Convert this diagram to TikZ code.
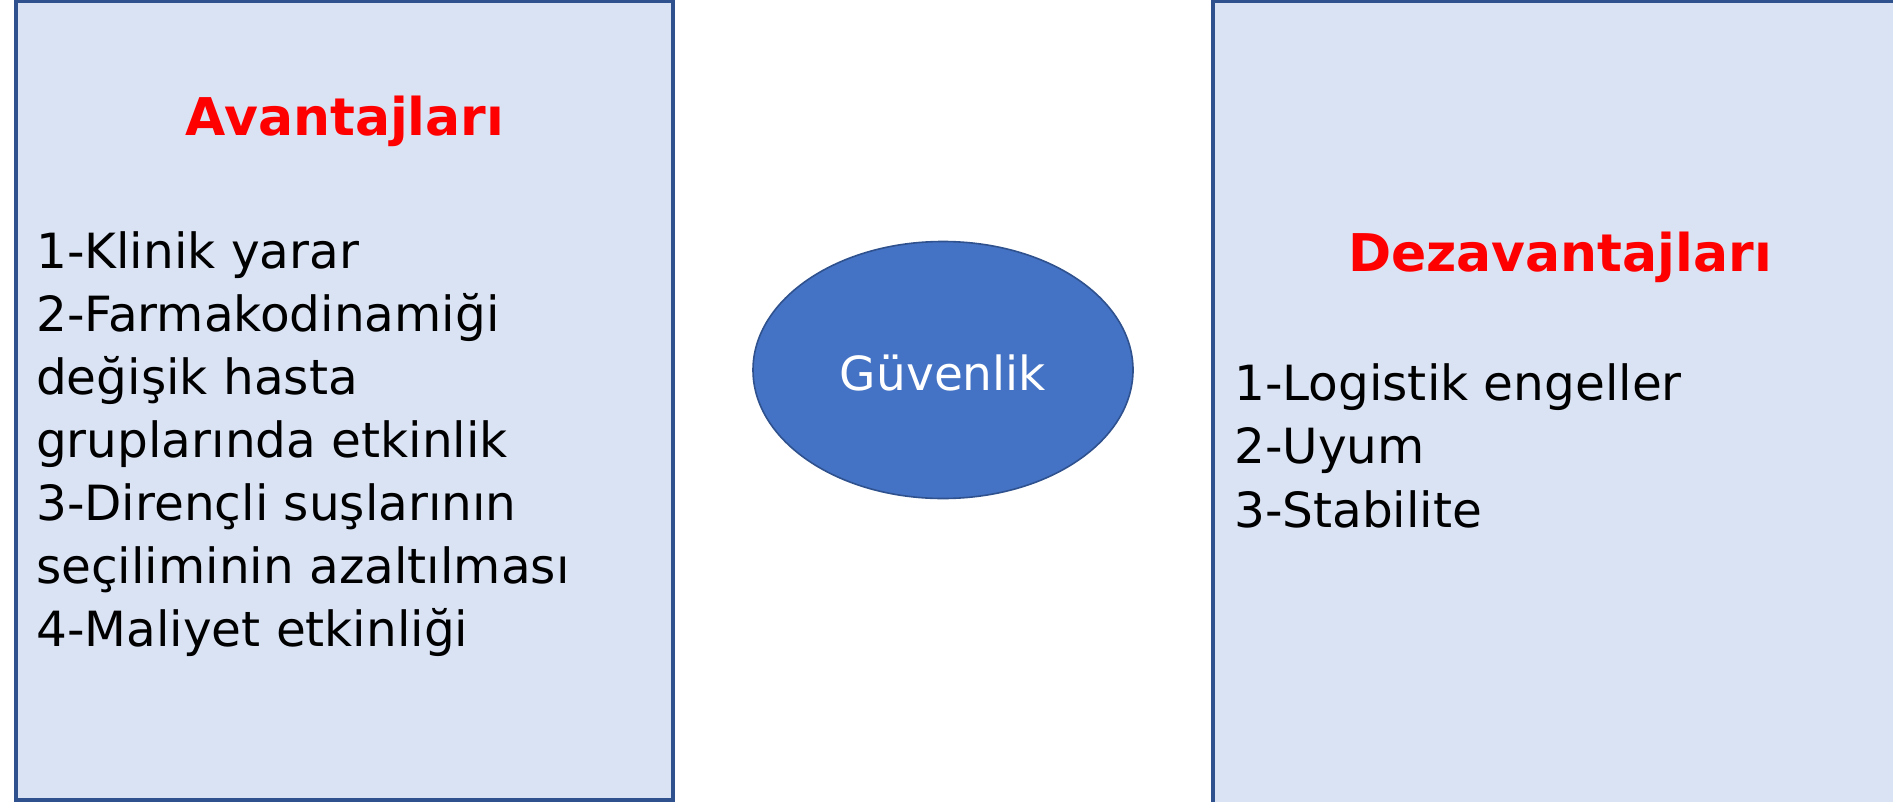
\documentclass[tikz,border=0pt]{standalone}
\usepackage{fontspec}
\setmainfont{DejaVu Sans}
\usetikzlibrary{shapes.geometric}
\definecolor{boxfill}{HTML}{DAE3F3}
\definecolor{boxline}{HTML}{2F528F}
\definecolor{ovalfill}{HTML}{4472C4}
\definecolor{titlered}{HTML}{FF0000}
\tikzset{
  panel/.style={draw=boxline, fill=boxfill, line width=3.2pt, rectangle, inner sep=0pt},
  oval/.style={ellipse, draw=boxline, fill=ovalfill, line width=1.6pt, inner sep=0pt},
  heading/.style={anchor=base, text=titlered, inner sep=0pt, font=\fontsize{52}{60}\selectfont\bfseries},
  itemline/.style={anchor=base west, inner sep=0pt, font=\fontsize{48.5}{63}\selectfont},
  ovaltext/.style={anchor=base, inner sep=0pt, text=white, font=\fontsize{47}{56}\selectfont}
}
\begin{document}
\begin{tikzpicture}[x=1pt,y=-1pt]
\useasboundingbox (0,0) rectangle (1893,801);
\clip (0,0) rectangle (1893,801);
% panels
\node[panel, minimum width=657pt, minimum height=799pt] (left) at (344.5,400.5) {};
\node[panel, minimum width=692pt, minimum height=814pt] (right) at (1559,408) {};
% central ellipse
\node[oval, minimum width=380pt, minimum height=257pt] (safety) at (943,370) {};
\node[ovaltext] (safetytext) at (943,390) {Güvenlik};
% headings
\node[heading] (adv) at (345,135) {Avantajları};
\node[heading] (disadv) at (1560,271) {Dezavantajları};
% left list
\node[itemline] (a1) at (36,268) {1-Klinik yarar};
\node[itemline] (a2) at (36,331) {2-Farmakodinamiği};
\node[itemline] (a3) at (36,394) {değişik hasta};
\node[itemline] (a4) at (36,457) {gruplarında etkinlik};
\node[itemline] (a5) at (36,520) {3-Dirençli suşlarının};
\node[itemline] (a6) at (36,583) {seçiliminin azaltılması};
\node[itemline] (a7) at (36,646) {4-Maliyet etkinliği};
% right list
\node[itemline] (d1) at (1234,400) {1-Logistik engeller};
\node[itemline] (d2) at (1234,463) {2-Uyum};
\node[itemline] (d3) at (1234,527) {3-Stabilite};
\end{tikzpicture}
\end{document}
